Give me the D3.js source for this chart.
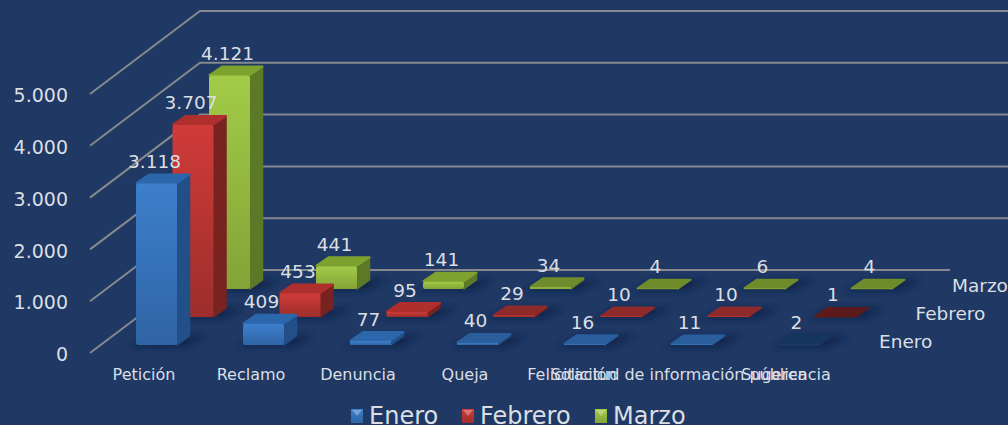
<!DOCTYPE html>
<html>
<head>
<meta charset="utf-8">
<script src="https://cdn.jsdelivr.net/npm/d3@7"></script>
<style>
  html, body { margin: 0; padding: 0; background: #1f3864; overflow: hidden; }
  text { font-family: "DejaVu Sans", sans-serif; fill: #dbdfe4; }
</style>
</head>
<body>
<div id="chart"></div>
<script>
const categories = ["Petición", "Reclamo", "Denuncia", "Queja", "Felicitación", "Solicitud de información pública", "Sugerencia"];
const seriesNames = ["Enero", "Febrero", "Marzo"];
const enero = [3118, 409, 77, 40, 16, 11, 2];
const febrero = [3707, 453, 95, 29, 10, 10, 1];
const marzo = [4121, 441, 141, 34, 4, 6, 4];
const valueTicks = [0, 1000, 2000, 3000, 4000, 5000];

const seriesValues = [enero, febrero, marzo];
const palette = [
  { light: "#3d7fcc", dark: "#2f64a4", side: "#224f88", top: "#2c66ab", flat: "#2a5e9c", dim: "#17365f" },
  { light: "#d03b39", dark: "#9c2e2b", side: "#782320", top: "#ae2f2d", flat: "#8f2a2a", dim: "#5c1a1c" },
  { light: "#a2cb48", dark: "#84a337", side: "#5d7827", top: "#7da22f", flat: "#6f8c2c", dim: "#4c6423" }
];

const width = 1008, height = 425;
const svg = d3.select("#chart").append("svg")
  .attr("width", width)
  .attr("height", height)
  .style("display", "block");

const defs = svg.append("defs");
defs.append("filter").attr("id", "soft")
  .attr("x", "-30%").attr("y", "-60%").attr("width", "160%").attr("height", "220%")
  .append("feGaussianBlur").attr("stdDeviation", 3);

palette.forEach((p, i) => {
  const g = defs.append("linearGradient").attr("id", "front" + i)
    .attr("x1", 0).attr("y1", 0).attr("x2", 0).attr("y2", 1);
  g.append("stop").attr("offset", "0%").attr("stop-color", p.light);
  g.append("stop").attr("offset", "100%").attr("stop-color", p.dark);
});

// value scale, the back wall lines are the same scale shifted by the floor depth
const y = d3.scaleLinear().domain([0, 5000]).range([353, 94]);
const x = d3.scalePoint().domain(categories).range([144, 786]);
const rowX = d3.scalePoint().domain(seriesNames).range([0, 73]);
const rowY = d3.scalePoint().domain(seriesNames).range([0, -56]);

const wallDx = 110, wallDy = -83, wallLeft = 90, wallRight = 950;
const barW = 41, depthX = 13, depthY = -9, baseY = 345, barShift = -8;

const fmt = d3.formatLocale({ decimal: ",", thousands: ".", grouping: [3], currency: ["", ""] }).format(",d");

// tops of nearly empty bars are drawn darker in the original
const shade = d3.scaleThreshold().domain([3, 60]).range(["dim", "flat", "top"]);
const topColor = d => palette[d.s][shade(d.value)];
const sideColor = d => d.value < 3 ? palette[d.s].dim : palette[d.s].side;

// grid
svg.append("g").selectAll("path")
  .data(valueTicks)
  .join("path")
  .attr("fill", "none")
  .attr("stroke", "#85898e")
  .attr("stroke-width", 2)
  .attr("d", d => d3.line()([
    [wallLeft, y(d)],
    [wallLeft + wallDx, y(d) + wallDy],
    [d === 0 ? wallRight : width, y(d) + wallDy]
  ]));

// y axis
const yAxis = svg.append("g")
  .attr("transform", "translate(68,0)")
  .call(d3.axisLeft(y).tickValues(valueTicks).tickFormat(fmt).tickSize(0).tickPadding(0));
yAxis.select(".domain").remove();
yAxis.attr("font-family", null);
yAxis.selectAll("text").style("font-size", "19px").attr("fill", null).attr("dy", "0.4em");

// flatten to one list per bar, back row first so the front row covers it
const bars = [];
for (let s = seriesNames.length - 1; s >= 0; s--) {
  categories.forEach((c, i) => {
    bars.push({ category: c, series: seriesNames[s], s: s, value: seriesValues[s][i] });
  });
}
const left = d => x(d.category) + barShift + rowX(d.series);
const bottom = d => baseY + rowY(d.series);
const barH = d => y(0) - y(d.value);
const pts = a => a.map(p => p.join(",")).join(" ");

// floor shadows
svg.append("g").attr("filter", "url(#soft)").selectAll("polygon")
  .data(bars)
  .join("polygon")
  .attr("fill", "#10244a")
  .attr("fill-opacity", 0.9)
  .attr("points", d => {
    const l = left(d) - 6, b = bottom(d) + 2;
    return pts([[l, b], [l + barW + 14, b], [l + barW + 14 + depthX + 8, b + depthY - 2], [l + depthX + 10, b + depthY - 2]]);
  });

const barG = svg.append("g").selectAll("g")
  .data(bars)
  .join("g")
  .attr("stroke-linejoin", "round");

// side face
barG.append("polygon")
  .attr("fill", sideColor)
  .attr("stroke", sideColor)
  .attr("stroke-width", 1.5)
  .attr("points", d => {
    const r = left(d) + barW, b = bottom(d), t = b - barH(d);
    return pts([[r, b], [r + depthX - 0.5, b + depthY], [r + depthX - 0.5, t + depthY], [r, t]]);
  });

// top face
barG.append("polygon")
  .attr("fill", topColor)
  .attr("stroke", topColor)
  .attr("stroke-width", 2)
  .attr("points", d => {
    const l = left(d), t = bottom(d) - barH(d);
    return pts([[l + 0.5, t - 0.5], [l + barW, t - 0.5], [l + barW + depthX - 0.5, t + depthY], [l + depthX, t + depthY]]);
  });

// front face
barG.append("rect")
  .attr("x", d => left(d))
  .attr("y", d => bottom(d) - barH(d))
  .attr("width", barW)
  .attr("height", barH)
  .attr("rx", d => barH(d) > 6 ? 2 : 0)
  .attr("fill", d => "url(#front" + d.s + ")");

// value labels
svg.append("g").selectAll("text")
  .data(bars)
  .join("text")
  .attr("x", d => left(d) + 18.5)
  .attr("y", d => bottom(d) - barH(d) - 15.5)
  .attr("text-anchor", "middle")
  .style("font-size", "18.5px")
  .text(d => fmt(d.value));

// category labels
svg.append("g").selectAll("text")
  .data(categories)
  .join("text")
  .attr("x", d => x(d))
  .attr("y", 380)
  .attr("text-anchor", "middle")
  .style("font-size", "16px")
  .text(d => d);

// series labels on the depth axis
svg.append("g").selectAll("text")
  .data(seriesNames)
  .join("text")
  .attr("x", d => 879 + rowX(d))
  .attr("y", d => 348 + rowY(d))
  .style("font-size", "18.5px")
  .text(d => d);

// legend
const legendX = [351, 462, 595];
const legend = svg.append("g").selectAll("g")
  .data(seriesNames)
  .join("g")
  .attr("transform", (d, i) => `translate(${legendX[i]},0)`);
legend.append("rect")
  .attr("y", 409).attr("width", 12).attr("height", 14)
  .attr("fill", (d, i) => "url(#front" + i + ")");
legend.append("path")
  .attr("d", "M1,410L11,410L6,416Z")
  .attr("fill", "#ffffff")
  .attr("fill-opacity", 0.3);
legend.append("text")
  .attr("x", 18)
  .attr("y", 424)
  .style("font-size", "24px")
  .text(d => d);
</script>
</body>
</html>
